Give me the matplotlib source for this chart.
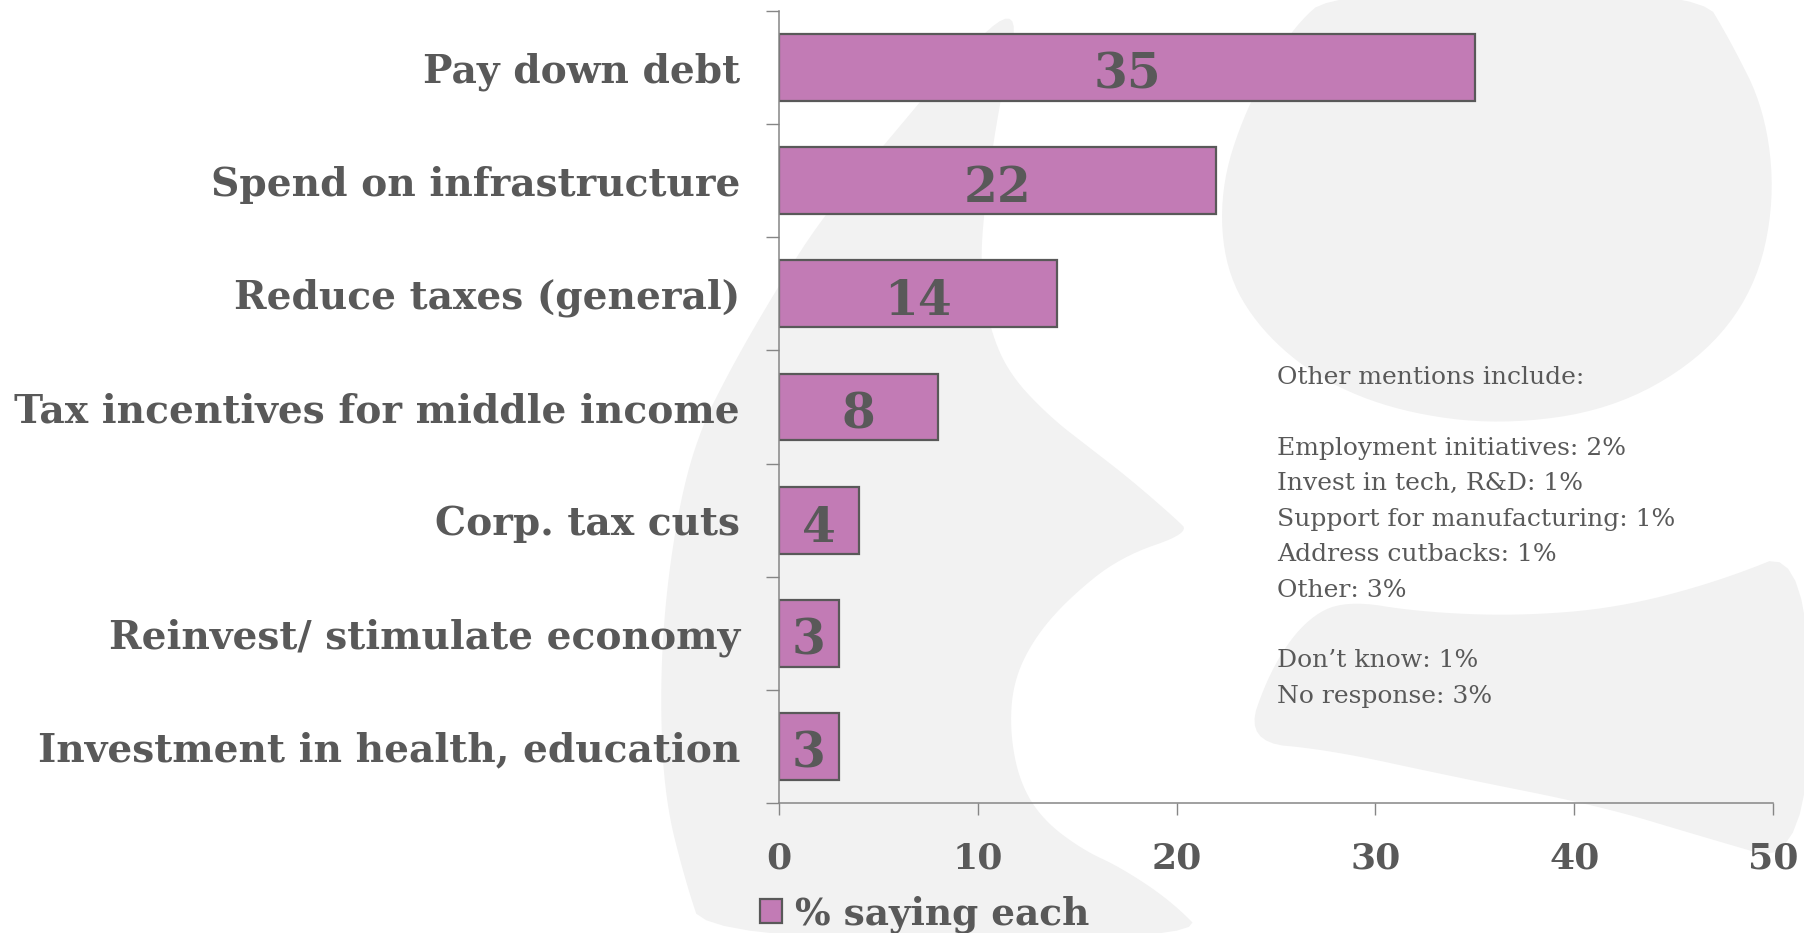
import numpy as np
import matplotlib.pyplot as plt
from matplotlib.patches import Polygon

# survey answers, top to bottom
categories = [
    "Pay down debt",
    "Spend on infrastructure",
    "Reduce taxes (general)",
    "Tax incentives for middle income",
    "Corp. tax cuts",
    "Reinvest/ stimulate economy",
    "Investment in health, education",
]
values = [35, 22, 14, 8, 4, 3, 3]
series_name = "% saying each"
x_ticks = [0, 10, 20, 30, 40, 50]

other_mentions = [
    "Other mentions include:",
    "",
    "Employment initiatives: 2%",
    "Invest in tech, R&D: 1%",
    "Support for manufacturing: 1%",
    "Address cutbacks: 1%",
    "Other: 3%",
    "",
    "Don\u2019t know: 1%",
    "No response: 3%",
]

TEXT = "#595959"
BAR = "#C27BB5"
AXIS = "#868686"
SHAPE = "#F2F2F2"

# outlines of the pale logo swirl behind the chart (pixel coords)
swoosh = [(1022, 0), (1000, 100), (985, 200), (980, 270), (990, 330), (1010, 375),
          (1050, 417), (1090, 448), (1130, 479), (1175, 518), (1190, 533),
          (1120, 557), (1067, 600), (1033, 640), (1013, 683), (1010, 733),
          (1020, 783), (1043, 820), (1083, 850), (1120, 867), (1170, 900), (1210, 940),
          (705, 940), (685, 880), (665, 800), (660, 700), (665, 600), (680, 500),
          (700, 430), (730, 370), (770, 300), (820, 220), (880, 150), (955, 60)]
blob = [(1335, -10), (1290, 30), (1245, 110), (1220, 190), (1225, 270), (1260, 330),
        (1320, 380), (1400, 412), (1500, 425), (1610, 410), (1700, 360), (1755, 290),
        (1775, 200), (1765, 110), (1730, 40), (1700, -10)]
band = [(1245, 742), (1270, 670), (1305, 620), (1345, 600), (1420, 612), (1517, 616),
        (1617, 608), (1717, 582), (1810, 545), (1810, 868), (1700, 836), (1600, 806),
        (1450, 776), (1330, 750)]


def smooth(points, rounds=3):
    pts = np.asarray(points, dtype=float)
    for _ in range(rounds):
        nxt = np.roll(pts, -1, axis=0)
        pts = np.column_stack([0.75 * pts + 0.25 * nxt, 0.25 * pts + 0.75 * nxt]).reshape(-1, 2)
    return pts


plt.rcParams["font.family"] = "DejaVu Serif"

fig = plt.figure(figsize=(18.04, 9.33), dpi=100)

bg = fig.add_axes([0, 0, 1, 1], zorder=0)
bg.set_xlim(0, 1804)
bg.set_ylim(933, 0)
bg.axis("off")
for outline in (swoosh, blob, band):
    bg.add_patch(Polygon(smooth(outline), closed=True, facecolor=SHAPE, edgecolor="none"))

ax = fig.add_axes([779 / 1804, 1 - 803 / 933, (1773 - 779) / 1804, (803 - 11) / 933], zorder=1)
ax.patch.set_alpha(0)

y = np.arange(len(categories))
bars = ax.barh(y, values, height=0.59, color=BAR, edgecolor=TEXT, linewidth=1.6,
               label=series_name)
for yi, v in zip(y, values):
    ax.text(v / 2, yi + 0.07, str(v), ha="center", va="center", fontsize=35,
            fontweight="bold", color=TEXT)

ax.set_xlim(0, 50)
ax.set_ylim(len(categories) - 0.5, -0.5)
ax.set_xticks(x_ticks)
ax.set_xticklabels([str(t) for t in x_ticks], fontsize=26, fontweight="bold", color=TEXT)
ax.set_yticks(y)
ax.set_yticklabels(categories, fontsize=28.2, fontweight="bold", color=TEXT)
ax.set_yticks(np.arange(len(categories) + 1) - 0.5, minor=True)
ax.tick_params(axis="y", which="major", length=0, pad=28)
ax.tick_params(axis="y", which="minor", length=9.5, width=1, color=AXIS)
ax.tick_params(axis="x", length=8.6, width=1, color=AXIS, pad=19)

for side in ("top", "right"):
    ax.spines[side].set_visible(False)
for side in ("left", "bottom"):
    ax.spines[side].set_color(AXIS)
    ax.spines[side].set_linewidth(1.1)

fig.text(1277 / 1804, 1 - 366 / 933, "\n".join(other_mentions), ha="left", va="top",
         fontsize=18, color=TEXT, linespacing=1.69)

fig.legend(handles=[bars], labels=[series_name], loc="center left",
           bbox_to_anchor=(760 / 1804, 1 - 914 / 933), frameon=False, borderpad=0,
           borderaxespad=0, handlelength=0.58, handleheight=0.58, handletextpad=0.35,
           prop={"size": 27, "weight": "bold"}, labelcolor=TEXT)

fig.savefig("out.png", dpi=100)
